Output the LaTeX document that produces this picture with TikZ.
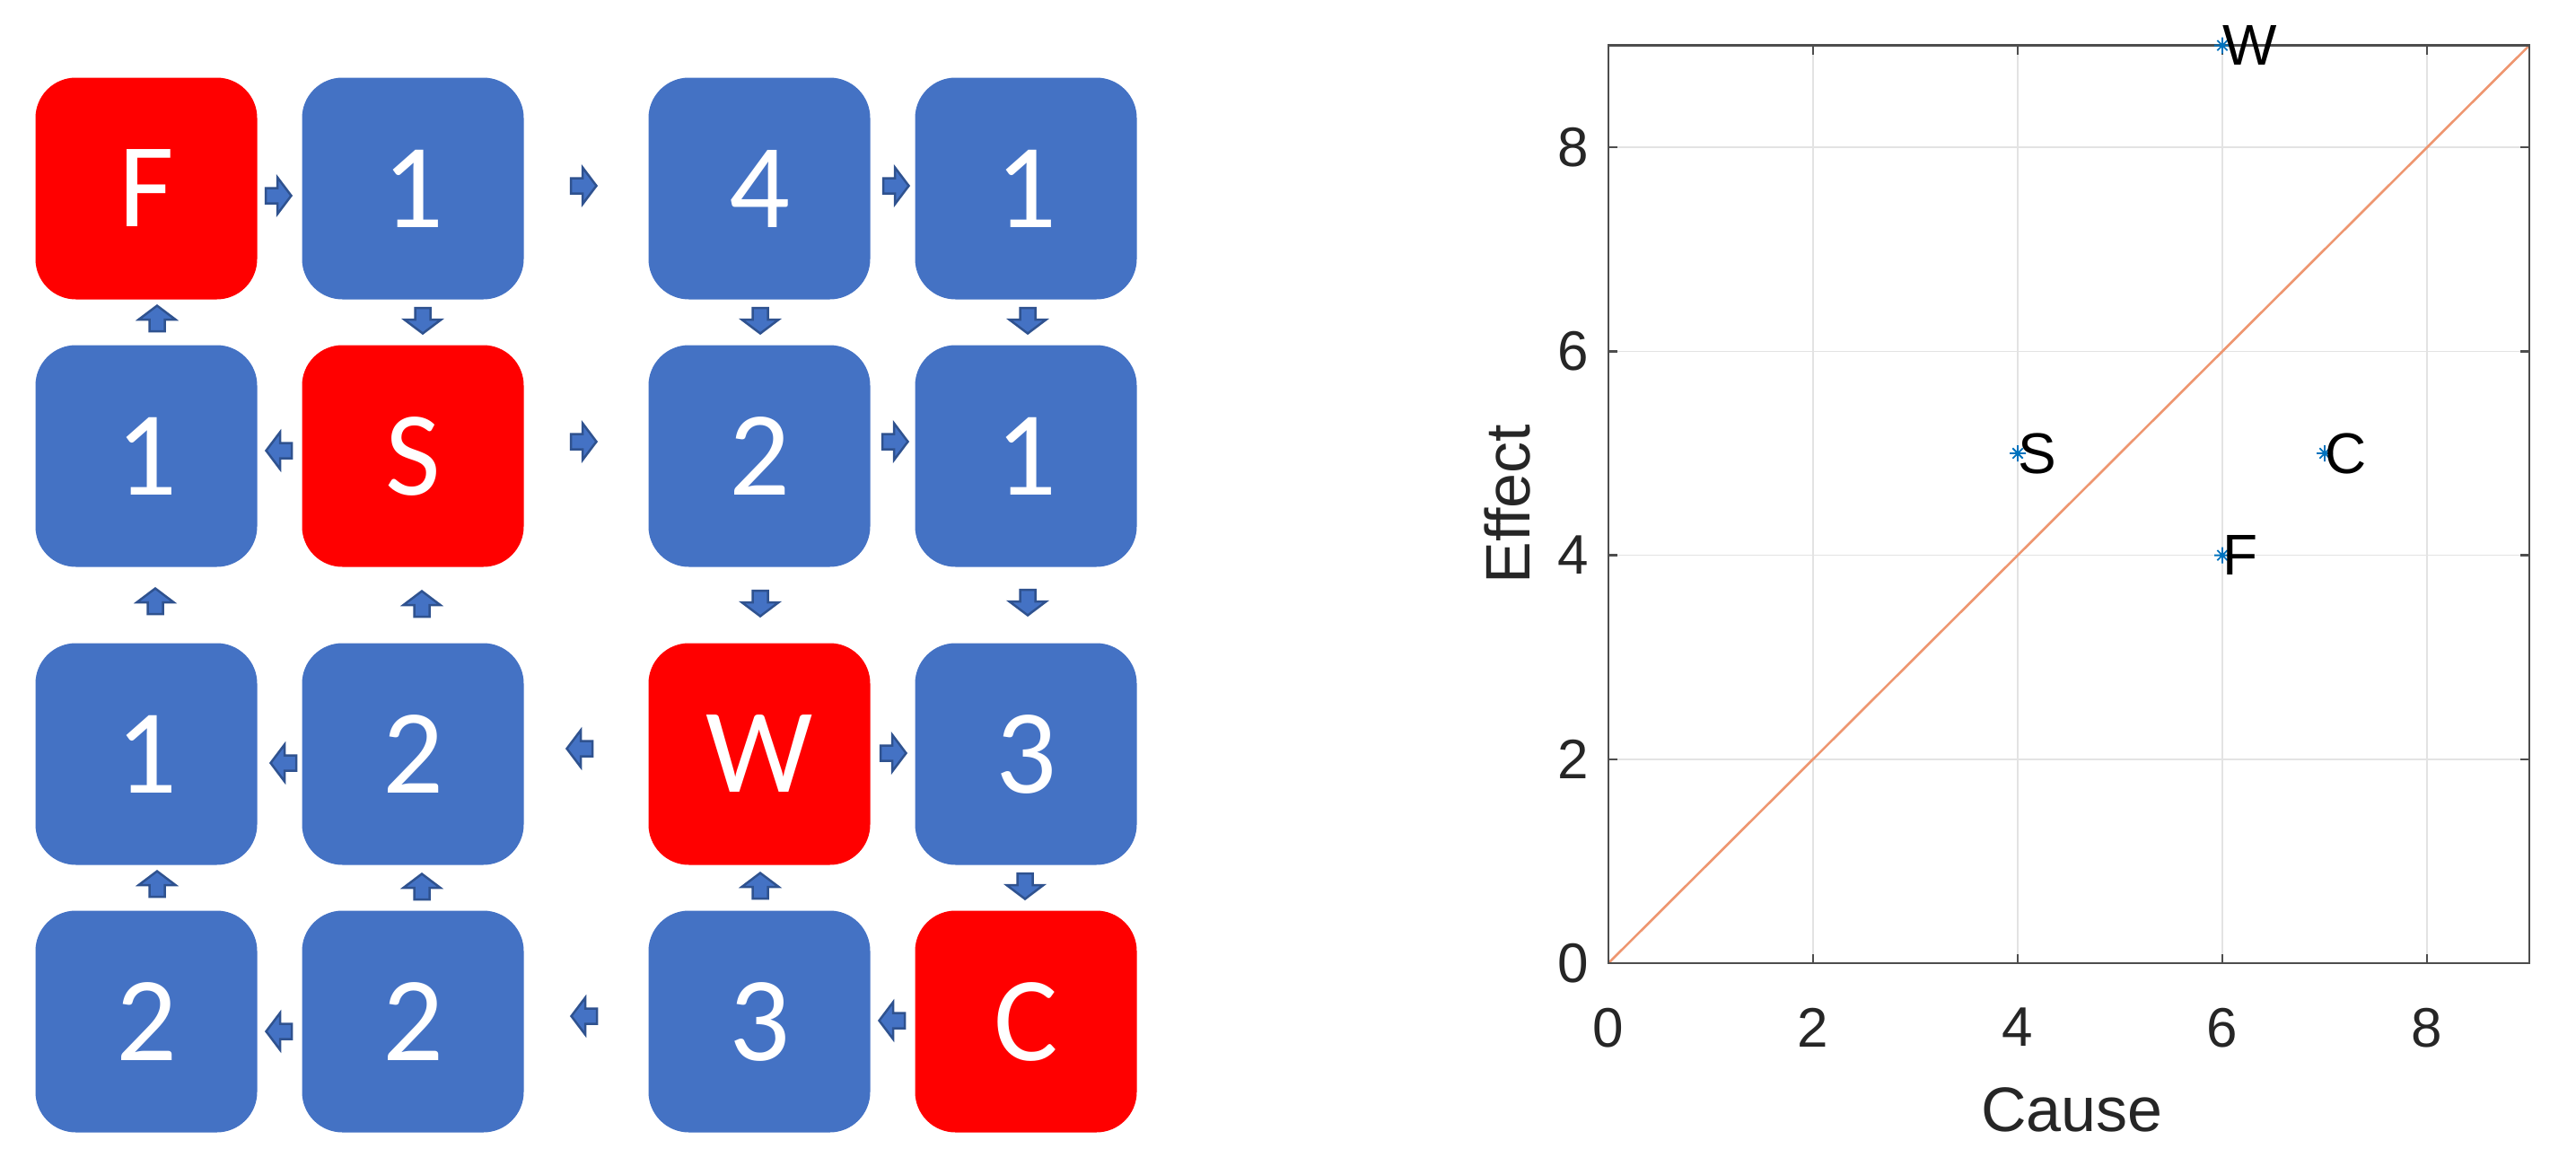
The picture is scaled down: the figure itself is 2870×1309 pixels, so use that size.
\documentclass[tikz,border=0pt]{standalone}
\usepackage{fontspec}
\setmainfont{Carlito}
\newfontfamily\plotfont{Liberation Sans}
\definecolor{cellblue}{HTML}{4472C4}
\definecolor{cellred}{HTML}{FF0000}
\definecolor{arrowline}{HTML}{2F528F}
\definecolor{axisgray}{HTML}{262626}
\definecolor{framegray}{HTML}{4D4D4D}
\definecolor{gridgray}{HTML}{E3E3E3}
\definecolor{diagline}{RGB}{238,150,112}
\definecolor{markblue}{RGB}{0,114,189}
\tikzset{
  cell/.style={minimum width=247pt, minimum height=247pt, rounded corners=45pt, inner sep=0pt,
    text=white, font=\fontsize{134}{134}\selectfont},
  bluecell/.style={cell, fill=cellblue},
  redcell/.style={cell, fill=cellred},
  barrow/.pic={\filldraw[fill=cellblue, draw=arrowline, line width=2.5pt, line join=miter]
    (-14,-8.5) -- (-1,-8.5) -- (-1,-20.5) -- (14.5,0) -- (-1,20.5) -- (-1,8.5) -- (-14,8.5) -- cycle;},
  marker/.pic={\draw[markblue, line width=1.8pt] (0:-9pt) -- (0:9pt) (90:-9pt) -- (90:9pt) (45:-8pt) -- (45:8pt) (135:-8pt) -- (135:8pt);},
  gridline/.style={gridgray, line width=1.6pt},
  axisline/.style={framegray, line width=2.5pt},
  ticklabel/.style={inner sep=0pt, text=axisgray, font=\plotfont\fontsize{62}{62}\selectfont},
  axislabel/.style={inner sep=0pt, text=axisgray, font=\plotfont\fontsize{70}{70}\selectfont},
  ptlabel/.style={inner sep=0pt, anchor=west, text=black, font=\plotfont\fontsize{64}{64}\selectfont}
}
\begin{document}
\begin{tikzpicture}[x=1pt,y=-1pt]
\useasboundingbox (0,0) rectangle (2870,1309);
% ---- grid of cells ----
\node[redcell]  (r1c1) at (163,210) {F};
\node[bluecell] (r1c2) at (460,210) {1};
\node[bluecell] (r1c3) at (846,210) {4};
\node[bluecell] (r1c4) at (1143,210) {1};
\node[bluecell] (r2c1) at (163,508) {1};
\node[redcell]  (r2c2) at (460,508) {S};
\node[bluecell] (r2c3) at (846,508) {2};
\node[bluecell] (r2c4) at (1143,508) {1};
\node[bluecell] (r3c1) at (163,840) {1};
\node[bluecell] (r3c2) at (460,840) {2};
\node[redcell]  (r3c3) at (846,840) {W};
\node[bluecell] (r3c4) at (1143,840) {3};
\node[bluecell] (r4c1) at (163,1138) {2};
\node[bluecell] (r4c2) at (460,1138) {2};
\node[bluecell] (r4c3) at (846,1138) {3};
\node[redcell]  (r4c4) at (1143,1138) {C};
% ---- block arrows (rotate=90: up, rotate=-90: down) ----
% row 1
\pic at (310,218) {barrow};
\pic at (650,207) {barrow};
\pic at (998,207) {barrow};
% between row 1 and row 2
\pic[rotate=90] at (175,355) {barrow};
\pic[rotate=-90] at (471,357) {barrow};
\pic[rotate=-90] at (847,357) {barrow};
\pic[rotate=-90] at (1145,357) {barrow};
% row 2
\pic[rotate=180] at (311,502) {barrow};
\pic at (650,492) {barrow};
\pic at (997,492) {barrow};
% between row 2 and row 3
\pic[rotate=90] at (173,670) {barrow};
\pic[rotate=90] at (470,673) {barrow};
\pic[rotate=-90] at (847,672) {barrow};
\pic[rotate=-90] at (1145,671) {barrow};
% row 3
\pic[rotate=180] at (316,850) {barrow};
\pic[rotate=180] at (646,834) {barrow};
\pic at (995,839) {barrow};
% between row 3 and row 4
\pic[rotate=90] at (175,985) {barrow};
\pic[rotate=90] at (470,988) {barrow};
\pic[rotate=90] at (847,987) {barrow};
\pic[rotate=-90] at (1142,987) {barrow};
% row 4
\pic[rotate=180] at (311,1149) {barrow};
\pic[rotate=180] at (651,1132) {barrow};
\pic[rotate=180] at (994,1137) {barrow};
% ---- plot ----
\begin{scope}[shift={(1792,1073)}, x=114pt, y=113.6pt]
  \foreach \v in {2,4,6,8} {
    \draw[gridline] (\v,0) -- (\v,9);
    \draw[gridline] (0,\v) -- (9,\v);
  }
  \draw[diagline, line width=2.6pt] (0,0) -- (9,9);
  \draw[axisline] (0,0) rectangle (9,9);
  \foreach \v in {0,2,4,6,8} {
    \draw[axisline] (\v,0) -- (\v,0.09);
    \draw[axisline] (\v,9) -- (\v,8.91);
    \draw[axisline] (0,\v) -- (0.09,\v);
    \draw[axisline] (9,\v) -- (8.91,\v);
    \node[ticklabel, anchor=north] (xt\v) at (\v,-0.44) {\v};
    \node[ticklabel, anchor=east] (yt\v) at (-0.19,\v) {\v};
  }
  \node[axislabel, rotate=90] (ylab) at (-0.99,4.5) {Effect};
  \node[axislabel] (xlab) at (4.53,-1.44) {Cause};
  \pic at (6,9) {marker};
  \pic at (4,5) {marker};
  \pic at (7,5) {marker};
  \pic at (6,4) {marker};
  \node[ptlabel] (pW) at (6,9) {W};
  \node[ptlabel] (pS) at (4,5) {S};
  \node[ptlabel] (pC) at (7,5) {C};
  \node[ptlabel] (pF) at (6,4) {F};
\end{scope}
\end{tikzpicture}
\end{document}
